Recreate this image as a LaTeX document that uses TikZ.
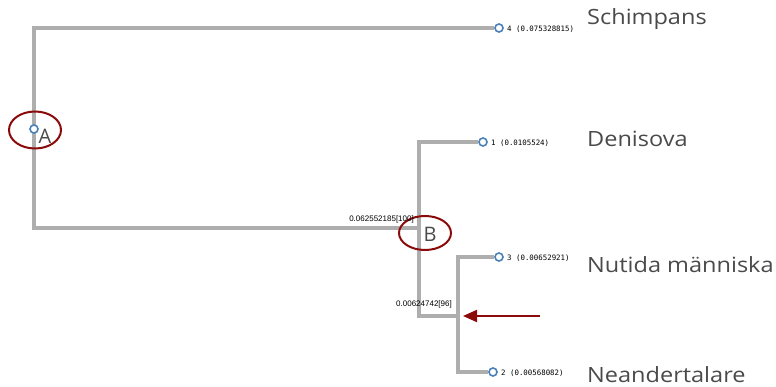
\documentclass[tikz,border=0pt]{standalone}
\usepackage{fontspec}
\setmainfont{Open Sans}
\newfontfamily\bigf[FakeStretch=1.12]{Open Sans}
\newfontfamily\monof{DejaVu Sans Mono}
\newfontfamily\innerf{Liberation Sans}
\usetikzlibrary{arrows.meta,shapes.geometric}
\definecolor{branch}{HTML}{AEAEAE}
\definecolor{leafblue}{HTML}{4A80B8}
\definecolor{markred}{HTML}{8B0A0A}
\definecolor{txt}{HTML}{4A4A4A}
\tikzset{
  br/.style={draw=branch, line width=3.2pt},
  leaf/.style={circle, draw=leafblue, fill=white, line width=1.6pt, minimum size=8pt, inner sep=0pt},
  small/.style={font=\monof\fontsize{7.4}{8}\selectfont, text=black, inner sep=0pt, anchor=west},
  inner/.style={font=\innerf\fontsize{8}{9}\selectfont, text=black, inner sep=0pt, anchor=east},
  big/.style={font=\bigf\fontsize{21}{24}\selectfont, text=txt, inner sep=0pt, anchor=west},
  ring/.style={ellipse, draw=markred, line width=2pt, inner sep=0pt},
}
\begin{document}
\begin{tikzpicture}[x=1pt,y=-1pt]
\useasboundingbox (0,0) rectangle (776,387);
% coordinates
\coordinate (rootTop) at (34,28);
\coordinate (rootBot) at (34,228);
\coordinate (bTop) at (419,142);
\coordinate (bMid) at (419,228);
\coordinate (bBot) at (419,316);
\coordinate (cMid) at (458,316);
\coordinate (cTop) at (458,257);
\coordinate (cBot) at (458,372);
% leaves
\node[leaf] (l4) at (499,28) {};
\node[leaf] (l1) at (483,142) {};
\node[leaf] (l3) at (499,257) {};
\node[leaf] (l2) at (493,372) {};
% branches
\draw[br] (l4.west) -- (rootTop) -- (rootBot) -- (bMid);
\draw[br] (l1.west) -- (bTop) -- (bBot) -- (cMid);
\draw[br] (l3.west) -- (cTop) -- (cBot) -- (l2.west);
% root node
\node[leaf] (nA) at (34,129) {};
\node[ring, minimum width=52pt, minimum height=37pt] (ellA) at (35,130) {};
\node[font=\fontsize{20}{24}\selectfont, text=txt, inner sep=0pt] (tA) at (45,136) {A};
\node[ring, minimum width=52pt, minimum height=34pt] (ellB) at (425,233) {};
\node[font=\fontsize{20}{24}\selectfont, text=txt, inner sep=0pt] (tB) at (430,234) {B};
% small labels
\node[small] (s4) at (507,29) {4 (0.075328815)};
\node[small] (s1) at (491,143) {1 (0.0105524)};
\node[small] (s3) at (507,258) {3 (0.00652921)};
\node[small] (s2) at (501,373) {2 (0.00568082)};
\node[inner] (sB) at (414,219) {0.062552185[100]};
\node[inner] (sC) at (452,304) {0.00624742[96]};
% big labels
\node[big] (n4) at (587,19) {Schimpans};
\node[big] (n1) at (587,139) {Denisova};
\node[big] (n3) at (587,265) {Nutida människa};
\node[big] (n2) at (587,375) {Neandertalare};
% arrow
\coordinate (arrS) at (540,316);
\coordinate (arrE) at (463,316);
\draw[draw=markred, line width=2pt, -{Triangle[length=14pt,width=12pt]}, color=markred] (arrS) -- (arrE);
\end{tikzpicture}
\end{document}
